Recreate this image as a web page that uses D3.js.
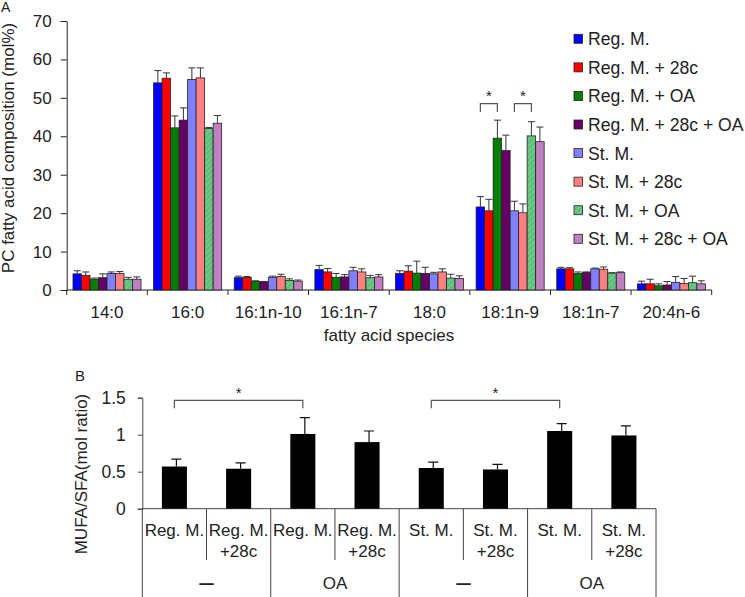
<!DOCTYPE html>
<html>
<head>
<meta charset="utf-8">
<script src="https://cdn.jsdelivr.net/npm/d3@7"></script>
<style>
  body { margin: 0; background: #fff; }
  svg { display: block; font-family: "Liberation Sans", Arial, sans-serif; }
</style>
</head>
<body>
<div id="chart"></div>
<script>
// panel A data
const species = ['14:0', '16:0', '16:1n-10', '16:1n-7', '18:0', '18:1n-9', '18:1n-7', '20:4n-6'];
const seriesNames = ['Reg. M.', 'Reg. M. + 28c', 'Reg. M. + OA', 'Reg. M. + 28c + OA',
  'St. M.', 'St. M. + 28c', 'St. M. + OA', 'St. M. + 28c + OA'];

const regM = [4.2, 53.9, 3.2, 5.3, 4.3, 21.6, 5.5, 1.6];
const regM28c = [3.8, 55.1, 3.3, 4.7, 4.9, 20.6, 5.5, 1.6];
const regMOA = [2.8, 42.2, 2.2, 3.3, 4.4, 39.5, 4.3, 1.1];
const regM28cOA = [3.2, 44.2, 2.1, 3.4, 4.3, 36.3, 4.6, 1.3];
const stM = [4.3, 54.8, 3.3, 5.0, 4.2, 20.6, 5.5, 2.0];
const stM28c = [4.3, 55.2, 3.5, 4.7, 4.7, 20.1, 5.4, 1.7];
const stMOA = [2.8, 42.0, 2.5, 3.2, 3.1, 40.1, 4.4, 1.9];
const stM28cOA = [2.8, 43.4, 2.3, 3.4, 3.0, 38.6, 4.5, 1.6];

const regMErr = [0.8, 3.2, 0.4, 1.1, 0.7, 2.7, 0.4, 0.7];
const regM28cErr = [0.9, 1.4, 0.2, 0.9, 1.4, 3.0, 0.3, 1.2];
const regMOAErr = [0.3, 3.1, 0.2, 1.0, 3.1, 4.7, 0.4, 0.5];
const regM28cOAErr = [1.0, 3.2, 0.1, 0.6, 1.6, 4.0, 0.1, 0.9];
const stMErr = [0.4, 3.0, 0.3, 0.9, 0.4, 2.5, 0.2, 1.5];
const stM28cErr = [0.5, 2.6, 0.6, 0.8, 0.8, 2.3, 0.6, 1.3];
const stMOAErr = [0.5, 0.3, 0.4, 0.6, 1.0, 3.7, 0.1, 1.7];
const stM28cOAErr = [0.6, 2.0, 0.3, 0.6, 0.7, 3.8, 0.2, 0.8];

const yTicksA = [0, 10, 20, 30, 40, 50, 60, 70];
// significance in panel A: [species, series from, series to, bracket level]
const sigA = [['18:1n-9', 0, 2, 48.5], ['18:1n-9', 4, 6, 48.5]];

// panel B data
const ratioLine1 = ['Reg. M.', 'Reg. M.', 'Reg. M.', 'Reg. M.', 'St. M.', 'St. M.', 'St. M.', 'St. M.'];
const ratioLine2 = ['', '+28c', '', '+28c', '', '+28c', '', '+28c'];
const ratioGroups = ['–', 'OA', '–', 'OA'];
const ratio = [0.57, 0.54, 1.01, 0.90, 0.55, 0.53, 1.05, 0.99];
const ratioErr = [0.10, 0.08, 0.22, 0.15, 0.08, 0.07, 0.10, 0.13];
const yTicksB = [0, 0.5, 1, 1.5];
const sigB = [[0, 2, 1.465], [4, 6, 1.465]];

const colors = ['#0000ff', '#ff0000', '#047d04', '#660066', '#8080ff', '#ff8080', 'url(#hatch)', '#c080c0'];

const valuesA = [regM, regM28c, regMOA, regM28cOA, stM, stM28c, stMOA, stM28cOA];
const errsA = [regMErr, regM28cErr, regMOAErr, regM28cOAErr, stMErr, stM28cErr, stMOAErr, stM28cOAErr];

const W = 745, H = 597;
const FS = 17;
const svg = d3.select('#chart').append('svg').attr('width', W).attr('height', H);

const defs = svg.append('defs');
const pat = defs.append('pattern')
  .attr('id', 'hatch')
  .attr('patternUnits', 'userSpaceOnUse')
  .attr('width', 4).attr('height', 4)
  .attr('patternTransform', 'rotate(45)');
pat.append('rect').attr('width', 4).attr('height', 4).attr('fill', '#5cbf78');
pat.append('rect').attr('width', 1.5).attr('height', 4).attr('fill', '#74cc8c');

// ---------- Panel A ----------
const x0 = d3.scaleBand().domain(species).range([66.7, 711.7]).padding(0);
const x1 = d3.scaleBand().domain(d3.range(8)).range([0, x0.bandwidth()]).paddingInner(0).paddingOuter(0.74);
const yA = d3.scaleLinear().domain([0, 70]).range([290, 21]);

const gA = svg.append('g');

gA.append('g')
  .attr('transform', 'translate(66.7,0)')
  .call(d3.axisLeft(yA).tickValues(yTicksA).tickSize(6).tickPadding(9))
  .call(g => g.selectAll('text').attr('font-size', FS).attr('fill', '#222').attr('font-family', 'Liberation Sans, Arial'))
  .call(g => g.selectAll('line,path').attr('stroke', '#222'));

// x axis baseline + boundary ticks
gA.append('line')
  .attr('x1', x0.range()[0]).attr('x2', x0.range()[1])
  .attr('y1', yA(0)).attr('y2', yA(0)).attr('stroke', '#222');
gA.append('g').selectAll('line')
  .data(species.concat(['end']))
  .join('line')
  .attr('x1', (d, i) => i < species.length ? x0(d) : x0.range()[1])
  .attr('x2', (d, i) => i < species.length ? x0(d) : x0.range()[1])
  .attr('y1', yA(0)).attr('y2', yA(0) + 5)
  .attr('stroke', '#222');

gA.append('g').selectAll('text')
  .data(species)
  .join('text')
  .attr('x', d => x0(d) + x0.bandwidth() / 2)
  .attr('y', 318)
  .attr('text-anchor', 'middle')
  .attr('font-size', FS)
  .attr('fill', '#222')
  .text(d => d);

gA.append('text')
  .attr('x', 389).attr('y', 341)
  .attr('text-anchor', 'middle')
  .attr('font-size', FS)
  .attr('fill', '#222')
  .text('fatty acid species');

gA.append('text')
  .attr('transform', 'translate(14,148) rotate(-90)')
  .attr('text-anchor', 'middle')
  .attr('font-size', FS)
  .attr('fill', '#222')
  .text('PC fatty acid composition (mol%)');

gA.append('text').attr('x', 1).attr('y', 12).attr('font-size', 14).attr('fill', '#222').text('A');

// bars
const cells = [];
species.forEach((sp, i) => {
  valuesA.forEach((vals, s) => {
    cells.push({ sp, s, v: vals[i], e: errsA[s][i] });
  });
});

const barG = gA.append('g');
barG.selectAll('rect')
  .data(cells)
  .join('rect')
  .attr('x', d => x0(d.sp) + x1(d.s))
  .attr('y', d => yA(d.v))
  .attr('width', x1.bandwidth())
  .attr('height', d => yA(0) - yA(d.v))
  .attr('fill', d => colors[d.s])
  .attr('stroke', '#222')
  .attr('stroke-width', 0.8);

const errG = gA.append('g').attr('stroke', '#333').attr('stroke-width', 1);
errG.selectAll('path')
  .data(cells)
  .join('path')
  .attr('fill', 'none')
  .attr('d', d => {
    const cx = x0(d.sp) + x1(d.s) + x1.bandwidth() / 2;
    const t = yA(d.v + d.e), b = yA(d.v);
    return `M${cx},${b}V${t}M${cx - 3.5},${t}H${cx + 3.5}`;
  });

// brackets A
sigA.forEach(([sp, a, b, lvl]) => {
  const xa = x0(sp) + x1(a) + x1.bandwidth() / 2;
  const xb = x0(sp) + x1(b) + x1.bandwidth() / 2;
  const yt = yA(lvl);
  gA.append('path')
    .attr('d', `M${xa},${yt + 8.5}V${yt}H${xb}V${yt + 8.5}`)
    .attr('fill', 'none').attr('stroke', '#555').attr('stroke-width', 1.2);
  gA.append('text')
    .attr('x', (xa + xb) / 2).attr('y', yt - 2.5)
    .attr('text-anchor', 'middle').attr('font-size', 15).attr('fill', '#222')
    .text('*');
});

// legend
const leg = gA.append('g').attr('transform', 'translate(574,34.3)');
const legRow = leg.selectAll('g')
  .data(seriesNames)
  .join('g')
  .attr('transform', (d, i) => `translate(0,${i * 28.57})`);
legRow.append('rect')
  .attr('width', 8.5).attr('height', 9)
  .attr('fill', (d, i) => colors[i])
  .attr('stroke', '#222').attr('stroke-width', 0.8);
legRow.append('text')
  .attr('x', 14).attr('y', 11)
  .attr('font-size', 17.6).attr('fill', '#222')
  .text(d => d);

// ---------- Panel B ----------
const xB = d3.scaleBand().domain(d3.range(8)).range([142.3, 656]).paddingInner(0.61).paddingOuter(0.305);
const xCell = d3.scaleBand().domain(d3.range(8)).range([142.3, 656]).padding(0);
const yB = d3.scaleLinear().domain([0, 1.5]).range([508.7, 397.7]);

const gB = svg.append('g');

gB.append('g')
  .attr('transform', 'translate(142.3,0)')
  .call(d3.axisLeft(yB).tickValues(yTicksB).tickFormat(d => d).tickSize(4.5).tickPadding(12))
  .call(g => g.selectAll('text').attr('font-size', FS + 0.5).attr('fill', '#222').attr('font-family', 'Liberation Sans, Arial'))
  .call(g => g.selectAll('line,path').attr('stroke', '#444'));

gB.append('line')
  .attr('x1', 142.3).attr('x2', 656)
  .attr('y1', yB(0)).attr('y2', yB(0)).attr('stroke', '#444');

// table lines under the axis
gB.append('g').selectAll('line')
  .data(d3.range(9))
  .join('line')
  .attr('x1', i => i < 8 ? xCell(i) : xCell.range()[1])
  .attr('x2', i => i < 8 ? xCell(i) : xCell.range()[1])
  .attr('y1', yB(0))
  .attr('y2', i => i % 2 === 0 ? H : 560)
  .attr('stroke', '#444');

gB.append('g').selectAll('text')
  .data(ratioLine1)
  .join('text')
  .attr('x', (d, i) => xCell(i) + xCell.bandwidth() / 2)
  .attr('y', 536)
  .attr('text-anchor', 'middle').attr('font-size', FS).attr('fill', '#222')
  .text(d => d);
gB.append('g').selectAll('text')
  .data(ratioLine2)
  .join('text')
  .attr('x', (d, i) => xCell(i) + xCell.bandwidth() / 2)
  .attr('y', 557)
  .attr('text-anchor', 'middle').attr('font-size', FS).attr('fill', '#222')
  .text(d => d);
gB.append('g').selectAll('text')
  .data(ratioGroups)
  .join('text')
  .attr('x', (d, i) => xCell(i * 2 + 1))
  .attr('y', 589)
  .attr('text-anchor', 'middle').attr('font-size', FS).attr('fill', '#222')
  .attr('transform', d => d === '–' ? null : null)
  .text(d => d)
  .filter(d => d === '–')
  .attr('font-size', 26)
  .attr('y', 591);

gB.append('text')
  .attr('transform', 'translate(87,474) rotate(-90)')
  .attr('text-anchor', 'middle')
  .attr('font-size', FS)
  .attr('fill', '#222')
  .text('MUFA/SFA(mol ratio)');

gB.append('text').attr('x', 75).attr('y', 381).attr('font-size', 15).attr('fill', '#222').text('B');

gB.append('g').selectAll('rect')
  .data(ratio)
  .join('rect')
  .attr('x', (d, i) => xB(i))
  .attr('y', d => yB(d))
  .attr('width', xB.bandwidth())
  .attr('height', d => yB(0) - yB(d))
  .attr('fill', '#000');

gB.append('g').selectAll('path')
  .data(ratio)
  .join('path')
  .attr('fill', 'none').attr('stroke', '#111').attr('stroke-width', 1.2)
  .attr('d', (d, i) => {
    const cx = xB(i) + xB.bandwidth() / 2 + 2;
    const t = yB(d + ratioErr[i]), b = yB(d);
    return `M${cx},${b}V${t}M${cx - 5},${t}H${cx + 5}`;
  });

sigB.forEach(([a, b, lvl]) => {
  const xa = xB(a) + xB.bandwidth() / 2;
  const xb = xB(b) + xB.bandwidth() / 2;
  const yt = yB(lvl);
  gB.append('path')
    .attr('d', `M${xa},${yt + 8}V${yt}H${xb}V${yt + 8}`)
    .attr('fill', 'none').attr('stroke', '#555').attr('stroke-width', 1.2);
  gB.append('text')
    .attr('x', (xa + xb) / 2).attr('y', yt - 2.5)
    .attr('text-anchor', 'middle').attr('font-size', 15).attr('fill', '#222')
    .text('*');
});
</script>
</body>
</html>
